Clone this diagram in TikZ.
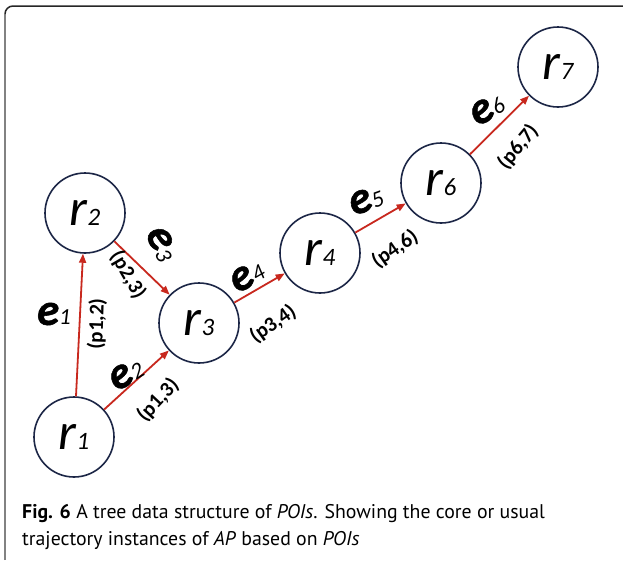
\documentclass[tikz,border=0pt]{standalone}
\usepackage{fontspec}
\setmainfont{Carlito}
\newfontfamily\capfont{PT Sans}
\newfontfamily\heavyit[FakeBold=1.2]{Carlito Bold Italic}
\usetikzlibrary{arrows.meta}
\definecolor{navy}{RGB}{28,38,70}
\definecolor{linkred}{RGB}{200,40,30}
\definecolor{framegray}{RGB}{130,130,130}
\newcommand{\rlab}[1]{{\itshape\fontsize{52}{52}\selectfont r}{\itshape\fontsize{25}{25}\selectfont #1}}
\newcommand{\elab}[1]{{\heavyit\fontsize{45}{45}\selectfont e}{\itshape\fontsize{23}{23}\selectfont #1}}
\begin{document}
\begin{tikzpicture}[x=1pt,y=-1pt,
  vertex/.style={circle,draw=navy,line width=1.6pt,minimum size=80pt,inner sep=0pt},
  link/.style={draw=linkred,line width=1.8pt,-{Triangle[length=9pt,width=7pt]}},
  elabel/.style={inner sep=0pt},
  plabel/.style={inner sep=0pt,font=\bfseries\fontsize{21}{21}\selectfont},
  caption/.style={inner sep=0pt,anchor=base west,font=\capfont\fontsize{19.8}{19.8}\selectfont}]
\useasboundingbox (0,0) rectangle (623,560);
\fill[white] (0,0) rectangle (623,560);

% frame of the figure panel
\draw[framegray,line width=2pt] (5,560) -- (5,14);
\draw[black!85,line width=1.5pt] (5,14) arc[start angle=180,end angle=90,x radius=8pt,y radius=8pt] -- (623,6);

% vertices
\node[vertex] (r1) at (74,437) {\rlab{1}};
\node[vertex] (r2) at (85,213) {\rlab{2}};
\node[vertex] (r3) at (199,323) {\rlab{3}};
\node[vertex] (r4) at (320,253) {\rlab{4}};
\node[vertex] (r6) at (441,183) {\rlab{6}};
\node[vertex] (r7) at (558,67) {\rlab{7}};

% edges
\draw[link] (r1) -- (r2);
\draw[link] (r1) -- (r3);
\draw[link] (r2) -- (r3);
\draw[link] (r3) -- (r4);
\draw[link] (r4) -- (r6);
\draw[link] (r6) -- (r7);

% edge names
\node[elabel] (e1) at (54,314) {\elab{1}};
\node[elabel,rotate=30] (e2) at (126,374) {\elab{2}};
\node[elabel,rotate=-65] (e3) at (162,244) {\elab{3}};
\node[elabel,rotate=30] (e4) at (247,276) {\elab{4}};
\node[elabel,rotate=20] (e5) at (366,200) {\elab{5}};
\node[elabel,rotate=30] (e6) at (487,109) {\elab{6}};

% edge weights
\node[plabel,rotate=88] (p12) at (97,324) {(p1,2)};
\node[plabel,rotate=47] (p13) at (158,400) {(p1,3)};
\node[plabel,rotate=-60] (p23) at (128,275) {(p2,3)};
\node[plabel,rotate=35] (p34) at (273,324) {(p3,4)};
\node[plabel,rotate=35] (p46) at (395,249) {(p4,6)};
\node[plabel,rotate=50] (p67) at (518,147) {(p6,7)};

% caption
\node[caption] (cap1) at (22,518) {\textbf{Fig. 6} A tree data structure of \textit{POIs}. Showing the core or usual};
\node[caption] (cap2) at (22,545) {trajectory instances of \textit{AP} based on \textit{POIs}};
\end{tikzpicture}
\end{document}
